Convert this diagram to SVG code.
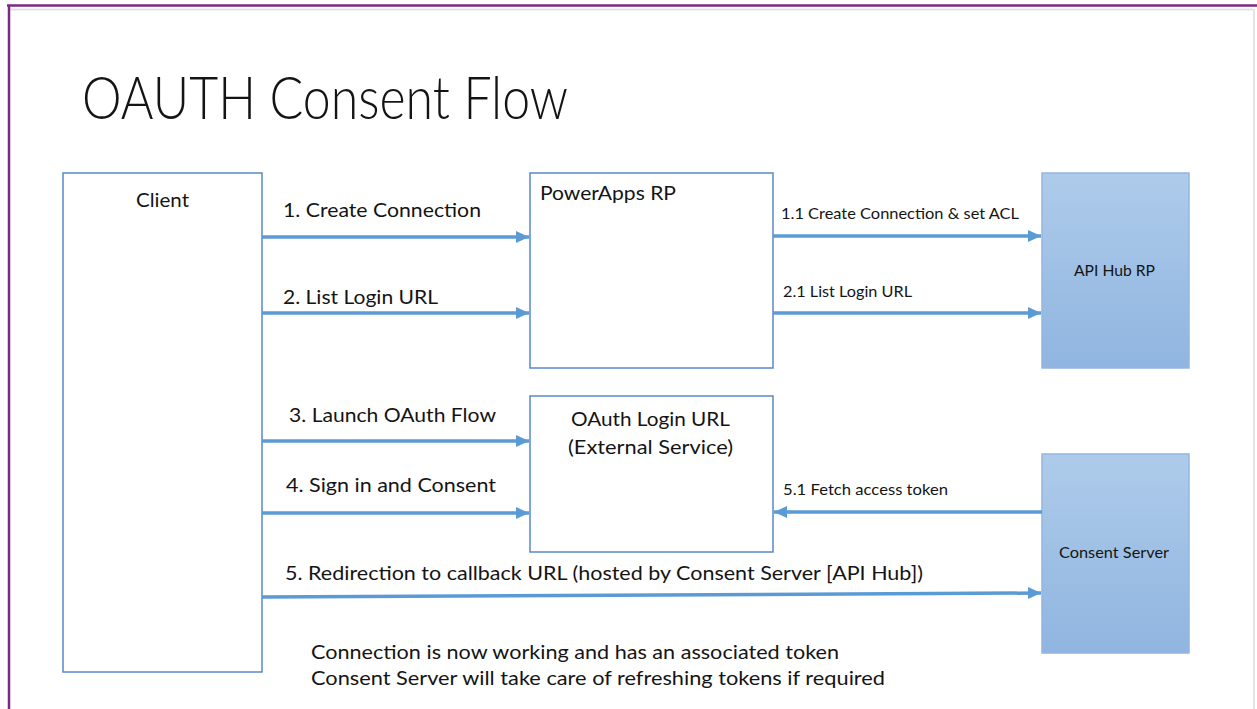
<svg xmlns="http://www.w3.org/2000/svg" width="1257" height="709" viewBox="0 0 1257 709">
<style>
  .t { font-family: Lato, "Open Sans", "Liberation Sans", sans-serif; fill: #141414; }
  .lbl { font-size: 20px; }
  .sm { font-size: 16px; }
  .box { fill: #ffffff; stroke: #5b87c9; stroke-width: 1.5; }
  .sbox { fill: url(#blueGrad); stroke: #93b7df; stroke-width: 1.5; }
  .arr { stroke: #5b9bd5; stroke-width: 3.5; fill: none; marker-end: url(#ah); }
</style>
<defs>
  <linearGradient id="blueGrad" x1="0" y1="0" x2="0" y2="1">
    <stop offset="0" stop-color="#aecbea"/>
    <stop offset="1" stop-color="#90b5e0"/>
  </linearGradient>
  <marker id="ah" markerUnits="userSpaceOnUse" markerWidth="14" markerHeight="14" viewBox="0 0 14 14" refX="13" refY="7" orient="auto">
    <path d="M0,1 L13,7 L0,13 Z" fill="#5b9bd5"/>
  </marker>
</defs>
<rect x="0" y="0" width="1257" height="709" fill="#ffffff"/>
<g id="frame">
  <line x1="10" y1="9.5" x2="1253" y2="9.5" stroke="#e2e2e2" stroke-width="2"/>
  <line x1="1254" y1="9" x2="1254" y2="709" stroke="#e4e4e4" stroke-width="2"/>
  <line x1="7" y1="5.5" x2="1257" y2="5.5" stroke="#7a2a83" stroke-width="2.5"/>
  <line x1="9" y1="5" x2="9" y2="709" stroke="#7a2a83" stroke-width="2.5"/>
</g>
<text id="title" class="t" x="82" y="119" font-size="59" font-weight="300" textLength="486" lengthAdjust="spacingAndGlyphs">OAUTH Consent Flow</text>

<g id="client">
  <rect class="box" x="63" y="173" width="199" height="499"/>
  <text class="t lbl" x="136" y="207" textLength="53" lengthAdjust="spacingAndGlyphs">Client</text>
</g>
<g id="powerapps">
  <rect class="box" x="530" y="173" width="243" height="195"/>
  <text class="t lbl" x="540" y="200" textLength="136" lengthAdjust="spacingAndGlyphs">PowerApps RP</text>
</g>
<g id="apihub">
  <rect class="sbox" x="1042" y="173" width="147" height="195"/>
  <text class="t sm" x="1074" y="276" textLength="81" lengthAdjust="spacingAndGlyphs">API Hub RP</text>
</g>
<g id="oauth">
  <rect class="box" x="530" y="396" width="243" height="156"/>
  <text class="t lbl" x="571" y="426" textLength="159" lengthAdjust="spacingAndGlyphs">OAuth Login URL</text>
  <text class="t lbl" x="568" y="454" textLength="165" lengthAdjust="spacingAndGlyphs">(External Service)</text>
</g>
<g id="consent">
  <rect class="sbox" x="1042" y="454" width="147" height="199"/>
  <text class="t sm" x="1059" y="558" textLength="110" lengthAdjust="spacingAndGlyphs">Consent Server</text>
</g>

<g id="connectors">
  <line class="arr" x1="262" y1="237" x2="529" y2="237"/>
  <line class="arr" x1="262" y1="313" x2="529" y2="313"/>
  <line class="arr" x1="773" y1="236" x2="1041" y2="236"/>
  <line class="arr" x1="773" y1="313" x2="1041" y2="313"/>
  <line class="arr" x1="262" y1="441" x2="529" y2="441"/>
  <line class="arr" x1="262" y1="513" x2="529" y2="513"/>
  <line class="arr" x1="1042" y1="512" x2="774" y2="512"/>
  <line class="arr" x1="262" y1="597" x2="1041" y2="593"/>
</g>
<g id="connector-labels">
  <text class="t lbl" x="283" y="217" textLength="198" lengthAdjust="spacingAndGlyphs">1. Create Connection</text>
  <text class="t lbl" x="283" y="304" textLength="155" lengthAdjust="spacingAndGlyphs">2. List Login URL</text>
  <text class="t sm" x="781" y="219" textLength="238" lengthAdjust="spacingAndGlyphs">1.1 Create Connection &amp; set ACL</text>
  <text class="t sm" x="783" y="297" textLength="129" lengthAdjust="spacingAndGlyphs">2.1 List Login URL</text>
  <text class="t lbl" x="289" y="422" textLength="207" lengthAdjust="spacingAndGlyphs">3. Launch OAuth Flow</text>
  <text class="t lbl" x="286" y="492" textLength="210" lengthAdjust="spacingAndGlyphs">4. Sign in and Consent</text>
  <text class="t sm" x="783" y="495" textLength="165" lengthAdjust="spacingAndGlyphs">5.1 Fetch access token</text>
  <text class="t lbl" x="285" y="580" textLength="638" lengthAdjust="spacingAndGlyphs">5. Redirection to callback URL (hosted by Consent Server [API Hub])</text>
</g>
<g id="notes">
  <text class="t lbl" x="311" y="659" textLength="528" lengthAdjust="spacingAndGlyphs">Connection is now working and has an associated token</text>
  <text class="t lbl" x="311" y="685" textLength="574" lengthAdjust="spacingAndGlyphs">Consent Server will take care of refreshing tokens if required</text>
</g>
</svg>
